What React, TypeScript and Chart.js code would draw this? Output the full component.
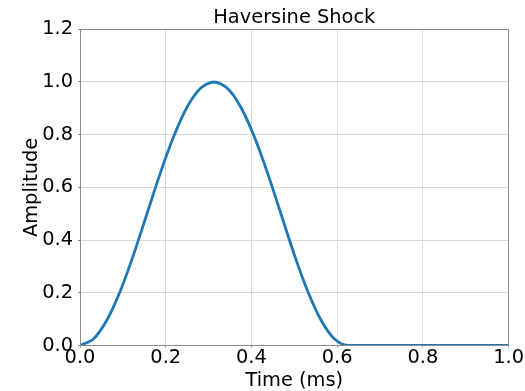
import React, { useEffect, useRef } from "react";
import { Chart, registerables } from "chart.js";

Chart.register(...registerables);

const timeMs = [0, 0.0313, 0.0625, 0.0938, 0.125, 0.1563, 0.1875, 0.2188, 0.25, 0.2813, 0.3125, 0.3438, 0.375, 0.4063, 0.4375, 0.4688, 0.5, 0.5313, 0.5625, 0.5938, 0.625, 0.7, 0.8, 0.9, 1.0];
const amplitude = [0, 0.025, 0.096, 0.206, 0.345, 0.5, 0.655, 0.794, 0.905, 0.976, 1.0, 0.976, 0.905, 0.794, 0.655, 0.5, 0.345, 0.206, 0.096, 0.025, 0, 0, 0, 0, 0];
const xTicks = [0, 0.2, 0.4, 0.6, 0.8, 1.0];
const yTicks = [0, 0.2, 0.4, 0.6, 0.8, 1.0, 1.2];
const titleText = "Haversine Shock";
const xLabel = "Time (ms)";
const yLabel = "Amplitude";

const FONT = "'DejaVu Sans', sans-serif";
const FS = 19.4;

const spinePlugin = {
  id: "spines",
  afterDatasetsDraw(chart: any) {
    const { ctx, chartArea } = chart;
    ctx.save();
    ctx.strokeStyle = "#8c8c8c";
    ctx.lineWidth = 1;
    const l = Math.round(chartArea.left) + 0.5;
    const t = Math.round(chartArea.top) + 0.5;
    const r = Math.round(chartArea.right) - 0.5;
    const b = Math.round(chartArea.bottom) - 0.5;
    ctx.strokeRect(l, t, r - l, b - t);
    ctx.restore();
  },
};

export default function App() {
  const ref = useRef<HTMLCanvasElement | null>(null);
  useEffect(() => {
    if (!ref.current) return;
    const data = timeMs.map((t, i) => ({ x: t, y: amplitude[i] }));
    const chart = new Chart(ref.current, {
      type: "line",
      data: {
        datasets: [
          {
            data,
            borderColor: "#1f77b4",
            borderWidth: 2.8,
            pointRadius: 0,
            fill: false,
            tension: 0.3,
            clip: 0,
          } as any,
        ],
      },
      options: {
        responsive: false,
        animation: false,
        layout: { padding: { left: 0, right: 14.5, top: 0, bottom: 0 } },
        plugins: {
          legend: { display: false },
          tooltip: { enabled: false },
          title: {
            display: true,
            text: titleText,
            fullSize: false,
            color: "#000",
            font: { family: FONT, size: FS, weight: "normal", lineHeight: 1.2 },
            padding: { top: 6, bottom: 0 },
          },
        },
        scales: {
          x: {
            type: "linear",
            min: 0,
            max: 1,
            afterBuildTicks: (s: any) => {
              s.ticks = xTicks.map((v) => ({ value: v }));
            },
            afterFit: (s: any) => {
              s.height = 45.5;
            },
            ticks: {
              color: "#000",
              font: { family: FONT, size: FS, lineHeight: 1 },
              padding: 1,
              maxRotation: 0,
              autoSkip: false,
              callback: (v: any) => Number(v).toFixed(1),
            },
            grid: { color: "#d9d9d9", lineWidth: 1, drawTicks: true, tickLength: 2, tickColor: "#8c8c8c" },
            border: { display: false },
            title: {
              display: true,
              text: xLabel,
              color: "#000",
              font: { family: FONT, size: FS, lineHeight: 1 },
              padding: { top: 0, bottom: 0 },
            },
          },
          y: {
            type: "linear",
            min: 0,
            max: 1.2,
            afterBuildTicks: (s: any) => {
              s.ticks = yTicks.map((v) => ({ value: v }));
            },
            afterFit: (s: any) => {
              s.width = 80;
            },
            ticks: {
              color: "#000",
              font: { family: FONT, size: FS, lineHeight: 1 },
              padding: 5,
              autoSkip: false,
              callback: (v: any) => Number(v).toFixed(1),
            },
            grid: { color: "#d9d9d9", lineWidth: 1, drawTicks: true, tickLength: 2, tickColor: "#8c8c8c" },
            border: { display: false },
            title: {
              display: true,
              text: yLabel,
              color: "#000",
              font: { family: FONT, size: FS, lineHeight: 1 },
              padding: { top: 22, bottom: 0 },
            },
          },
        },
      },
      plugins: [spinePlugin],
    } as any);
    return () => chart.destroy();
  }, []);
  return (
    <div style={{ position: "absolute", left: 0, top: 0, width: 525, height: 391, background: "#fff" }}>
      <canvas ref={ref} width={525} height={391} style={{ display: "block" }} />
    </div>
  );
}
